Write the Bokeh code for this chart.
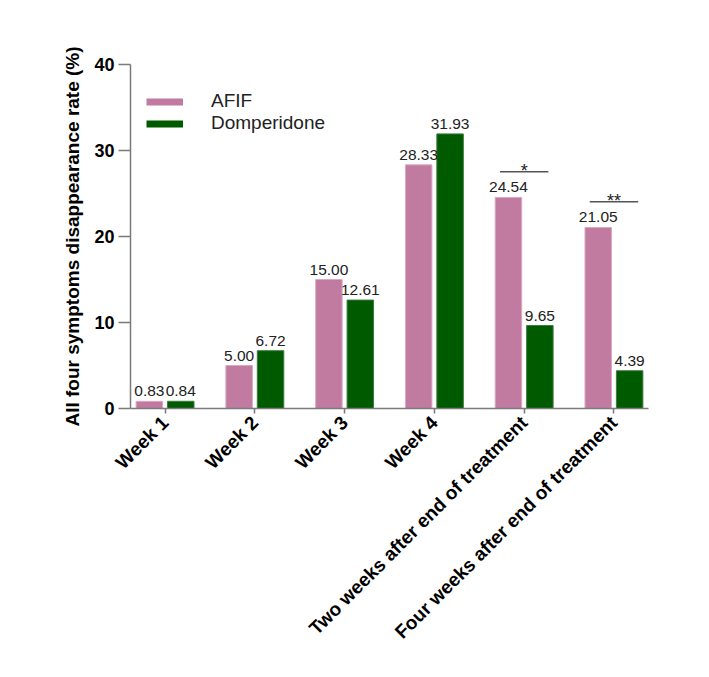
import numpy as np
from bokeh.plotting import figure
from bokeh.models import Range1d, FixedTicker, Legend, LegendItem
from bokeh.core.properties import value
from bokeh.embed import file_html
from bokeh.resources import INLINE

# ---- data ----
categories = ["Week 1", "Week 2", "Week 3", "Week 4",
              "Two weeks after end of treatment",
              "Four weeks after end of treatment"]
afif = [0.83, 5.00, 15.00, 28.33, 24.54, 21.05]
domperidone = [0.84, 6.72, 12.61, 31.93, 9.65, 4.39]
sig_categories = ["Two weeks after end of treatment",
                  "Four weeks after end of treatment"]
sig_marks = ["*", "**"]
y_ticks = [0, 10, 20, 30, 40]

PINK = "#C17BA0"
GREEN = "#005A00"
FONT = "Liberation Sans"

idx = np.arange(len(categories))
off = 0.175
bw = 0.295

p = figure(width=701, height=669, output_backend="svg", toolbar_location=None,
           x_range=Range1d(-0.385, 5.385), y_range=Range1d(0, 40),
           min_border_left=130, min_border_top=64, min_border_right=53,
           min_border_bottom=261)
p.outline_line_color = None
p.xgrid.visible = False
p.ygrid.visible = False
p.background_fill_color = "white"
p.border_fill_color = "white"

p.vbar(x=idx - off, top=afif, width=bw, fill_color=PINK,
       line_color="#D9A9C1", line_width=1)
p.vbar(x=idx + off, top=domperidone, width=bw, fill_color=GREEN,
       line_color="#3E7A3E", line_width=1)

# value labels
p.text(x=idx - off, y=afif, text=[f"{v:.2f}" for v in afif],
       text_font=value(FONT), text_font_size="15.5px", text_color="#222222",
       text_align="center", text_baseline="alphabetic", y_offset=-10)
p.text(x=idx + off, y=domperidone, text=[f"{v:.2f}" for v in domperidone],
       text_font=value(FONT), text_font_size="15.5px", text_color="#222222",
       text_align="center", text_baseline="alphabetic", y_offset=-10)

# significance brackets
sx, sy = [], []
for c in sig_categories:
    i = categories.index(c)
    sx.append(i)
    sy.append(max(afif[i], domperidone[i]) + 3.0)
sx = np.array(sx, dtype=float)
p.segment(x0=sx - 0.27, x1=sx + 0.27, y0=sy, y1=sy,
          line_color="#555555", line_width=1.5)
p.text(x=sx, y=sy, text=sig_marks, text_font=value(FONT),
       text_font_size="18px", text_color="#222222", text_align="center",
       text_baseline="alphabetic", y_offset=-1)

# axes
AX = "#7a7a7a"
p.yaxis.ticker = FixedTicker(ticks=y_ticks)
p.yaxis.axis_label = "All four symptoms disappearance rate (%)"
p.yaxis.axis_label_text_font = FONT
p.yaxis.axis_label_text_font_size = "19px"
p.yaxis.axis_label_text_font_style = "bold"
p.yaxis.axis_label_text_color = "black"
p.yaxis.axis_label_standoff = 8
p.yaxis.major_label_text_font = FONT
p.yaxis.major_label_text_font_size = "18px"
p.yaxis.major_label_text_font_style = "bold"
p.yaxis.major_label_text_color = "black"
p.yaxis.major_label_standoff = 4
p.yaxis.major_tick_out = 12
p.yaxis.major_tick_in = 0
p.yaxis.minor_tick_out = 0
p.yaxis.minor_tick_in = 0

p.xaxis.ticker = FixedTicker(ticks=list(range(len(categories))))
p.xaxis.major_label_overrides = {i: c for i, c in enumerate(categories)}
p.xaxis.major_label_orientation = np.pi / 4
p.xaxis.major_label_text_font = FONT
p.xaxis.major_label_text_font_size = "19px"
p.xaxis.major_label_text_font_style = "bold"
p.xaxis.major_label_text_color = "black"
p.xaxis.major_label_standoff = 6
p.xaxis.major_tick_out = 5
p.xaxis.major_tick_in = 0
p.xaxis.minor_tick_out = 0
p.xaxis.minor_tick_in = 0

for ax in (p.xaxis, p.yaxis):
    ax.axis_line_color = AX
    ax.axis_line_width = 1.5
    ax.major_tick_line_color = AX
    ax.major_tick_line_width = 1.5

# legend (dummy renderers placed outside the visible range)
r1 = p.line(x=[-10, -9], y=[-10, -10], line_color=PINK, line_width=7)
r2 = p.line(x=[-10, -9], y=[-10, -10], line_color=GREEN, line_width=7)
legend = Legend(items=[LegendItem(label="AFIF", renderers=[r1]),
                       LegendItem(label="Domperidone", renderers=[r2])],
                location=(16, 274), orientation="vertical",
                glyph_width=37, glyph_height=21, label_height=21,
                label_standoff=28, spacing=0, padding=0, margin=0,
                border_line_color=None, background_fill_alpha=0,
                label_text_font=FONT, label_text_font_size="19px",
                label_text_color="#222222")
p.add_layout(legend, "center")

open("out.html", "w").write(file_html(p, INLINE))
